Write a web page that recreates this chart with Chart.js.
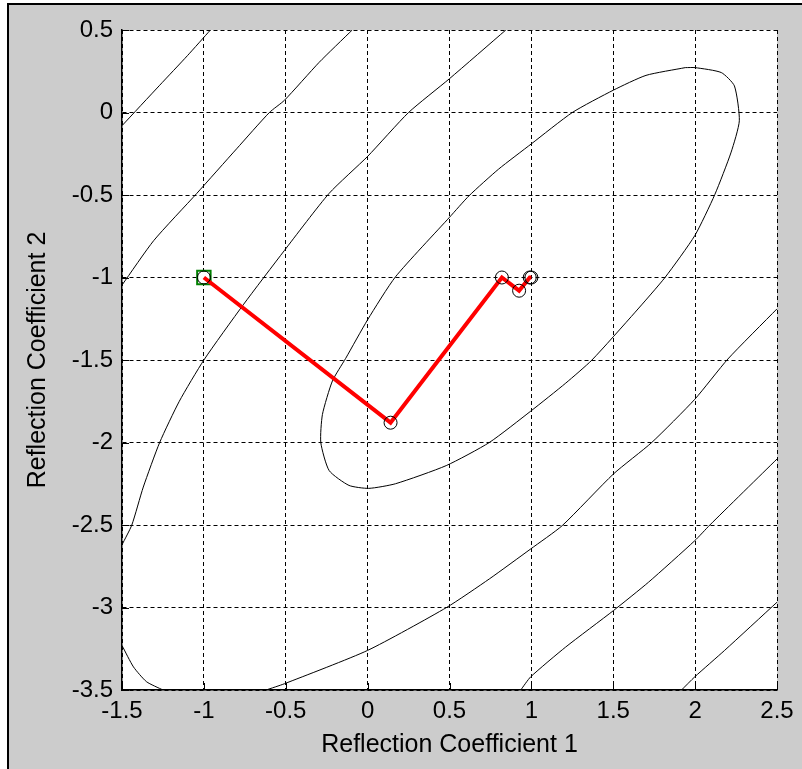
<!DOCTYPE html>
<html>
<head>
<meta charset="utf-8">
<script src="https://cdn.jsdelivr.net/npm/chart.js@4/dist/chart.umd.min.js"></script>
<style>
  html, body { margin: 0; padding: 0; background: white; }
  canvas { display: block; }
</style>
</head>
<body>
<canvas id="chart" width="802" height="769"></canvas>
<script>
// axis ticks
const xTicks = [-1.5, -1, -0.5, 0, 0.5, 1, 1.5, 2, 2.5];
const xTickLabels = ['-1.5', '-1', '-0.5', '0', '0.5', '1', '1.5', '2', '2.5'];
const yTicks = [-3.5, -3, -2.5, -2, -1.5, -1, -0.5, 0, 0.5];
const yTickLabels = ['-3.5', '-3', '-2.5', '-2', '-1.5', '-1', '-0.5', '0', '0.5'];

const xTitle = 'Reflection Coefficient 1';
const yTitle = 'Reflection Coefficient 2';

// contour lines
const contourInner = [
  [1.94, 0.272], [1.7, 0.225], [1.5, 0.135], [1.25, 0.0], [1.0, -0.19], [0.8, -0.343],
  [0.62, -0.504], [0.5, -0.635], [0.17, -0.996], [0.0, -1.256], [-0.134, -1.49],
  [-0.215, -1.627], [-0.276, -1.83], [-0.286, -2.0], [-0.235, -2.17], [-0.114, -2.26],
  [0.007, -2.278], [0.17, -2.25], [0.48, -2.14], [0.743, -2.0], [0.996, -1.81],
  [1.21, -1.64], [1.37, -1.5], [1.634, -1.21], [1.816, -1.0], [1.998, -0.746],
  [2.12, -0.498], [2.22, -0.24], [2.27, -0.05], [2.24, 0.161], [2.16, 0.242],
  [2.0, 0.272], [1.94, 0.272],
];
const contourB1 = [
  [0.844, 0.5], [0.5, 0.205], [0.25, 0.0], [0.0, -0.266], [-0.235, -0.49], [-0.508, -0.836],
  [-0.76, -1.166], [-1.0, -1.5], [-1.15, -1.75], [-1.27, -2.0], [-1.37, -2.27],
  [-1.44, -2.5], [-1.5, -2.62],
];
const contourB2 = [[-1.5, -3.23], [-1.43, -3.36], [-1.35, -3.45], [-1.25, -3.5]];
const contourB3 = [
  [-0.62, -3.5], [-0.508, -3.462], [0.0, -3.26], [0.482, -3.0], [0.743, -2.827],
  [0.996, -2.645], [1.188, -2.504], [1.502, -2.19], [1.735, -2.0], [1.998, -1.738],
  [2.2, -1.494], [2.5, -1.19],
];
const contourC1 = [
  [-1.5, -1.046], [-1.306, -0.776], [-1.043, -0.49], [-0.8, -0.22], [-0.6, 0.0],
  [-0.508, 0.074], [-0.296, 0.304], [-0.094, 0.5],
];
const contourC2 = [
  [2.5, -2.1], [2.09, -2.5], [1.998, -2.595], [1.715, -2.847], [1.502, -3.018],
  [1.209, -3.24], [0.996, -3.42], [0.935, -3.5],
];
const contourD1 = [[-1.5, -0.08], [-1.27, 0.165], [-1.1, 0.345], [-0.96, 0.5]];
const contourD2 = [[2.5, -2.968], [2.18, -3.26], [1.998, -3.42], [1.917, -3.5]];

// search path
const pathX = [-1, 0.14, 0.82, 0.925, 0.99, 1.0];
const pathY = [-1, -1.88, -1.0, -1.08, -1.0, -1.0];

const FONT = "'Liberation Sans', Arial, sans-serif";

const toPoints = (arr) => arr.map(p => ({x: p[0], y: p[1]}));
const pathPoints = pathX.map((x, i) => ({x: x, y: pathY[i]}));

const contourSet = (arr) => ({
  data: toPoints(arr),
  showLine: true,
  borderColor: 'black',
  borderWidth: 1,
  pointRadius: 0,
  tension: 0.2,
  order: 4,
});

const frame = {
  id: 'frame',
  beforeDraw: (chart) => {
    const ctx = chart.ctx;
    const area = chart.chartArea;
    ctx.save();
    ctx.fillStyle = 'white';
    ctx.fillRect(0, 0, chart.width, chart.height);
    ctx.fillStyle = 'rgb(204, 204, 204)';
    ctx.fillRect(7, 3, chart.width - 7, chart.height - 3);
    ctx.fillStyle = 'black';
    ctx.fillRect(7, 3, chart.width - 7, 2);
    ctx.fillRect(7, 3, 2, chart.height - 3);
    ctx.fillStyle = 'white';
    ctx.fillRect(area.left, area.top, area.width, area.height);
    ctx.restore();
  },
  afterDraw: (chart) => {
    // MATLAB style inward tick marks
    const ctx = chart.ctx;
    const sx = chart.scales.x;
    const sy = chart.scales.y;
    ctx.save();
    ctx.strokeStyle = 'black';
    ctx.lineWidth = 1;
    ctx.beginPath();
    xTicks.forEach(v => {
      const px = Math.round(sx.getPixelForValue(v)) + 0.5;
      ctx.moveTo(px, sx.top);
      ctx.lineTo(px, sx.top - 7);
    });
    yTicks.forEach(v => {
      const py = Math.round(sy.getPixelForValue(v)) + 0.5;
      ctx.moveTo(sy.right, py);
      ctx.lineTo(sy.right + 7, py);
    });
    ctx.stroke();
    ctx.restore();
  },
};

new Chart(document.getElementById('chart'), {
  type: 'scatter',
  data: {
    datasets: [
      {
        data: pathPoints,
        pointStyle: 'circle',
        pointRadius: 6.5,
        pointBorderWidth: 1,
        pointBorderColor: 'black',
        pointBackgroundColor: 'rgba(0,0,0,0)',
        showLine: false,
        order: 0,
      },
      {
        data: pathPoints,
        showLine: true,
        borderColor: 'rgb(255, 0, 0)',
        borderWidth: 4,
        pointRadius: 0,
        tension: 0,
        order: 1,
      },
      {
        data: pathPoints.slice(0, 1),
        pointStyle: 'rect',
        pointRadius: 9.5,
        pointBorderWidth: 2,
        pointBorderColor: 'rgb(0, 128, 0)',
        pointBackgroundColor: 'white',
        showLine: false,
        order: 2,
      },
      contourSet(contourInner),
      contourSet(contourB1),
      contourSet(contourB2),
      contourSet(contourB3),
      contourSet(contourC1),
      contourSet(contourC2),
      contourSet(contourD1),
      contourSet(contourD2),
    ],
  },
  options: {
    responsive: false,
    animation: false,
    events: [],
    layout: {
      padding: {top: 30, right: 25, bottom: 0, left: 0},
    },
    plugins: {
      legend: {display: false},
      tooltip: {enabled: false},
    },
    scales: {
      x: {
        type: 'linear',
        min: -1.5,
        max: 2.5,
        afterBuildTicks: (s) => { s.ticks = xTicks.map(v => ({value: v})); },
        afterFit: (s) => { s.height = 79; },
        ticks: {
          callback: (v, i) => xTickLabels[i],
          color: 'black',
          font: {family: FONT, size: 24},
          padding: 7,
          maxRotation: 0,
          autoSkip: false,
        },
        grid: {color: 'black', lineWidth: 1, drawTicks: false},
        border: {display: true, color: 'black', width: 1.5, dash: [4, 3]},
        title: {
          display: true,
          text: xTitle,
          color: 'black',
          font: {family: FONT, size: 25},
          padding: {top: 0, bottom: 9},
        },
      },
      y: {
        type: 'linear',
        min: -3.5,
        max: 0.5,
        afterBuildTicks: (s) => { s.ticks = yTicks.map(v => ({value: v})); },
        afterFit: (s) => { s.width = 122; },
        ticks: {
          callback: (v, i) => yTickLabels[i],
          color: 'black',
          font: {family: FONT, size: 24},
          padding: 9,
          autoSkip: false,
        },
        grid: {color: 'black', lineWidth: 1, drawTicks: false},
        border: {display: true, color: 'black', width: 1.5, dash: [4, 3]},
        title: {
          display: true,
          text: yTitle,
          color: 'black',
          font: {family: FONT, size: 25},
          padding: {top: 23, bottom: 0},
        },
      },
    },
  },
  plugins: [frame],
});
</script>
</body>
</html>
